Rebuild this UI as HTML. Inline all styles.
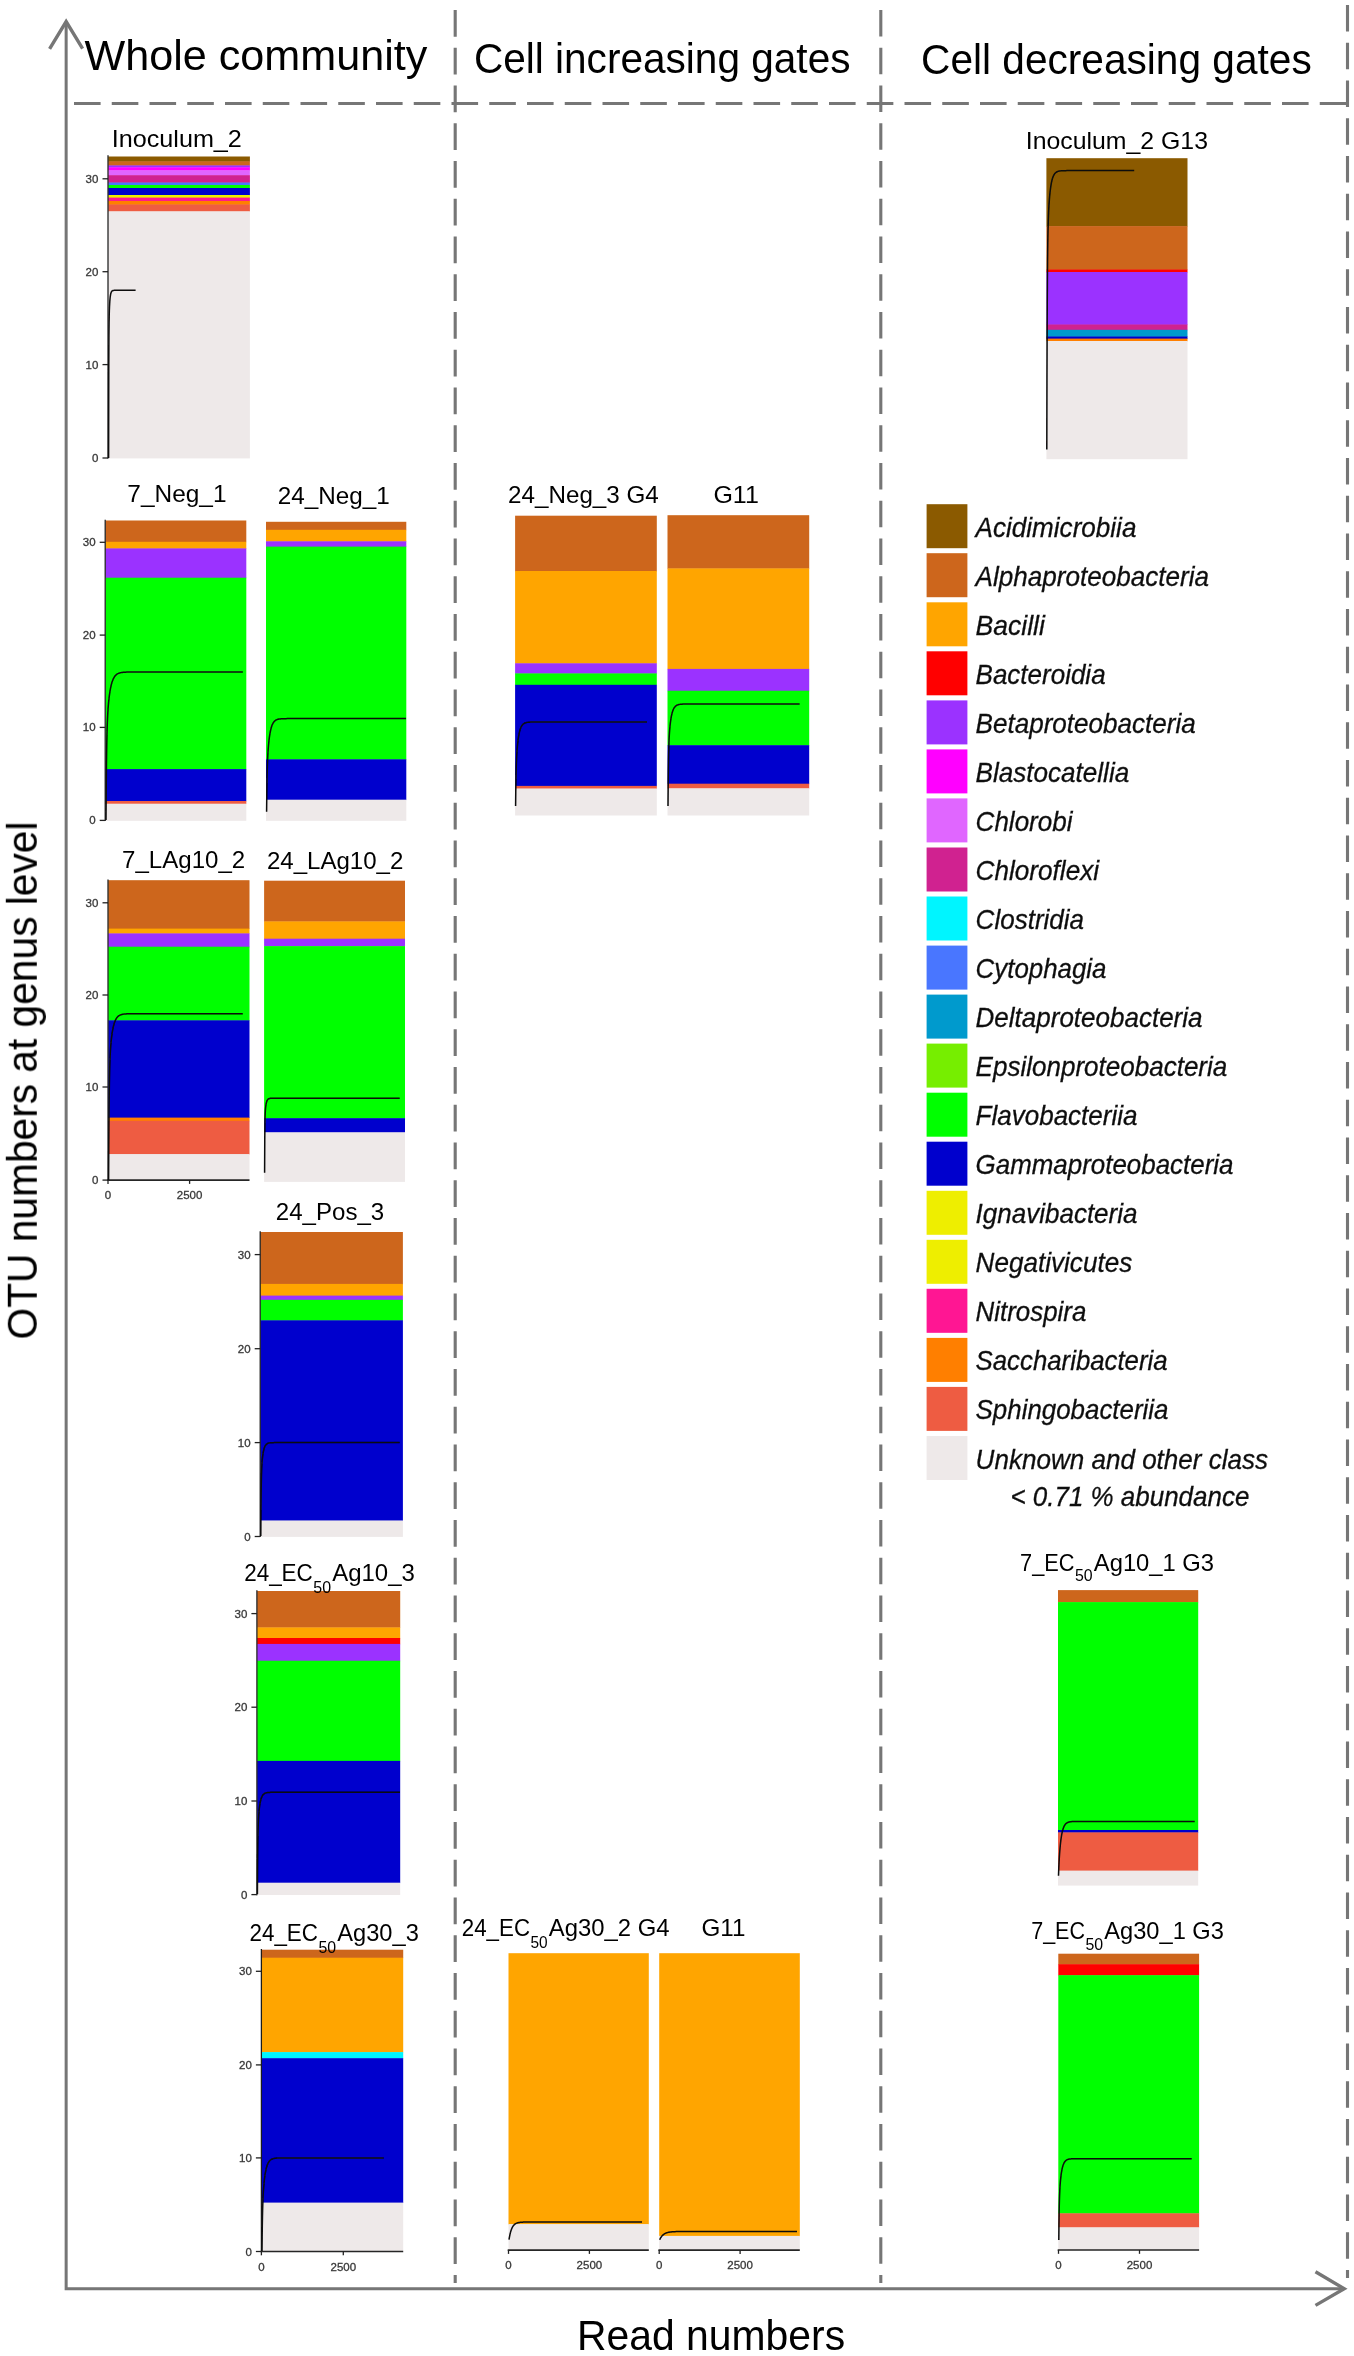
<!DOCTYPE html>
<html><head><meta charset="utf-8"><title>OTU figure</title>
<style>
html,body{margin:0;padding:0;background:#fff;}
body{width:1354px;height:2356px;overflow:hidden;font-family:"Liberation Sans",sans-serif;}
svg{display:block;font-family:"Liberation Sans",sans-serif;}
.tk{font-size:11.5px;fill:#383838;stroke:#383838;stroke-width:0.3;}
.lb{fill:#000;}
.lg{font-size:28px;font-style:italic;fill:#111;stroke:#111;stroke-width:0.3;}
.ti{fill:#000;}
</style></head><body>
<svg width="1354" height="2356" viewBox="0 0 1354 2356">
<defs><filter id="bl" filterUnits="userSpaceOnUse" x="0" y="0" width="1354" height="2356"><feGaussianBlur stdDeviation="0.6"/></filter><filter id="fb" filterUnits="userSpaceOnUse" x="0" y="0" width="1354" height="2356"><feGaussianBlur stdDeviation="0.45"/></filter><filter id="kb" filterUnits="userSpaceOnUse" x="0" y="0" width="1354" height="2356"><feGaussianBlur stdDeviation="0.75"/></filter><filter id="tb" filterUnits="userSpaceOnUse" x="0" y="0" width="1354" height="2356"><feGaussianBlur stdDeviation="0.3"/></filter></defs>
<rect width="1354" height="2356" fill="#fff"/>
<g filter="url(#fb)">
<g fill="none" stroke="#767676" stroke-width="3.4">
<path d="M66.15,22 L66.15,2288.7 L1343.5,2288.7" stroke-width="3.0"/>
<path d="M49.6,48.8 L66.15,21.6 L82.6,48.6"/>
<path d="M1315.5,2271.8 L1344.2,2288.7 L1315.5,2305.4"/>
</g>
<g fill="none" stroke="#767676" stroke-width="3.1" stroke-dasharray="26.6 11.15">
<path d="M74,103.5 L1348,103.5" stroke-dasharray="26.6 11.15"/>
<path d="M455.2,10.1 L455.2,2283"/>
<path d="M880.8,10.0 L880.8,2283"/>
<path d="M1347.5,5 L1347.5,2278"/>
</g>
</g>
<g filter="url(#bl)">
<rect x="108.2" y="156.5" width="141.7" height="5.3" fill="#8B5A00"/>
<rect x="108.2" y="161.4" width="141.7" height="4.4" fill="#CD661D"/>
<rect x="108.2" y="165.4" width="141.7" height="2.3" fill="#9B30FF"/>
<rect x="108.2" y="167.3" width="141.7" height="3.4" fill="#FF00FF"/>
<rect x="108.2" y="170.3" width="141.7" height="5.3" fill="#E066FF"/>
<rect x="108.2" y="175.2" width="141.7" height="7.7" fill="#D02090"/>
<rect x="108.2" y="182.5" width="141.7" height="2.9" fill="#4876FF"/>
<rect x="108.2" y="185.0" width="141.7" height="3.4" fill="#00FF00"/>
<rect x="108.2" y="188.0" width="141.7" height="7.4" fill="#0000CD"/>
<rect x="108.2" y="195.0" width="141.7" height="3.0" fill="#EEEE00"/>
<rect x="108.2" y="197.6" width="141.7" height="3.7" fill="#FF1493"/>
<rect x="108.2" y="200.9" width="141.7" height="4.0" fill="#FF7F00"/>
<rect x="108.2" y="204.5" width="141.7" height="7.2" fill="#EE5C42"/>
<rect x="108.2" y="211.3" width="141.7" height="247.1" fill="#EEE9E9"/>
<line x1="108.0" y1="155.2" x2="108.0" y2="458.6" stroke="#1a1a1a" stroke-width="1.25"/>
<line x1="102.5" y1="178.8" x2="108.0" y2="178.8" stroke="#222" stroke-width="1.3"/>
<line x1="102.5" y1="271.7" x2="108.0" y2="271.7" stroke="#222" stroke-width="1.3"/>
<line x1="102.5" y1="364.6" x2="108.0" y2="364.6" stroke="#222" stroke-width="1.3"/>
<line x1="102.5" y1="458.0" x2="108.0" y2="458.0" stroke="#222" stroke-width="1.3"/>
<path d="M108.60,458.00 L108.75,370.12 L108.90,337.25 L109.05,322.98 L109.20,315.37 L109.35,310.43 L109.50,306.77 L109.65,303.89 L109.80,301.54 L109.95,299.61 L110.10,298.02 L110.25,296.70 L110.75,293.72 L111.25,292.13 L111.75,291.28 L112.25,290.83 L112.75,290.58 L113.25,290.45 L113.75,290.38 L114.25,290.34 L114.75,290.32 L115.25,290.31 L115.75,290.31 L116.25,290.30 L116.75,290.30 L117.25,290.30 L135.60,290.30" fill="none" stroke="#0a0a0a" stroke-width="1.5" stroke-linejoin="round" stroke-linecap="butt"/>
<rect x="1046.4" y="158.2" width="141.1" height="68.3" fill="#8B5A00"/>
<rect x="1046.4" y="226.1" width="141.1" height="43.8" fill="#CD661D"/>
<rect x="1046.4" y="269.5" width="141.1" height="2.9" fill="#FF0000"/>
<rect x="1046.4" y="272.0" width="141.1" height="52.9" fill="#9B30FF"/>
<rect x="1046.4" y="324.5" width="141.1" height="5.7" fill="#D02090"/>
<rect x="1046.4" y="329.8" width="141.1" height="7.1" fill="#009ACD"/>
<rect x="1046.4" y="336.5" width="141.1" height="2.5" fill="#0000CD"/>
<rect x="1046.4" y="338.6" width="141.1" height="2.8" fill="#FF7F00"/>
<rect x="1046.4" y="341.0" width="141.1" height="118.2" fill="#EEE9E9"/>
<path d="M1046.80,449.40 L1046.95,383.30 L1047.10,336.60 L1047.25,303.30 L1047.40,279.28 L1047.55,261.72 L1047.70,248.65 L1047.85,238.74 L1048.00,231.05 L1048.15,224.93 L1048.30,219.96 L1048.45,215.81 L1048.60,212.28 L1048.75,209.21 L1048.90,206.49 L1049.05,204.06 L1049.20,201.85 L1049.35,199.84 L1049.50,197.98 L1049.65,196.27 L1049.80,194.67 L1049.95,193.19 L1050.10,191.80 L1050.25,190.50 L1050.40,189.29 L1050.55,188.15 L1050.70,187.08 L1050.85,186.08 L1051.00,185.14 L1051.15,184.26 L1051.30,183.43 L1051.45,182.65 L1051.60,181.92 L1052.10,179.79 L1052.60,178.06 L1053.10,176.66 L1053.60,175.52 L1054.10,174.59 L1054.60,173.84 L1055.10,173.23 L1055.60,172.74 L1056.10,172.34 L1056.60,172.01 L1057.10,171.74 L1057.60,171.53 L1058.10,171.35 L1058.60,171.21 L1059.10,171.10 L1059.60,171.00 L1060.10,170.93 L1060.60,170.87 L1061.10,170.82 L1061.60,170.78 L1062.10,170.74 L1062.60,170.72 L1063.10,170.69 L1063.60,170.68 L1064.10,170.66 L1064.60,170.65 L1065.10,170.64 L1065.60,170.63 L1066.10,170.63 L1066.60,170.62 L1067.10,170.62 L1067.60,170.61 L1068.10,170.61 L1068.60,170.61 L1069.10,170.61 L1069.60,170.61 L1070.10,170.61 L1070.60,170.60 L1071.10,170.60 L1071.60,170.60 L1072.10,170.60 L1072.60,170.60 L1073.10,170.60 L1134.20,170.60" fill="none" stroke="#0a0a0a" stroke-width="1.5" stroke-linejoin="round" stroke-linecap="butt"/>
<rect x="105.6" y="520.5" width="140.7" height="21.7" fill="#CD661D"/>
<rect x="105.6" y="541.8" width="140.7" height="7.0" fill="#FFA500"/>
<rect x="105.6" y="548.4" width="140.7" height="29.7" fill="#9B30FF"/>
<rect x="105.6" y="577.7" width="140.7" height="191.8" fill="#00FF00"/>
<rect x="105.6" y="769.1" width="140.7" height="32.3" fill="#0000CD"/>
<rect x="105.6" y="801.0" width="140.7" height="3.1" fill="#EE5C42"/>
<rect x="105.6" y="803.7" width="140.7" height="17.1" fill="#EEE9E9"/>
<line x1="105.2" y1="519.7" x2="105.2" y2="821.0" stroke="#1a1a1a" stroke-width="1.25"/>
<line x1="99.7" y1="542.3" x2="105.2" y2="542.3" stroke="#222" stroke-width="1.3"/>
<line x1="99.7" y1="635.1" x2="105.2" y2="635.1" stroke="#222" stroke-width="1.3"/>
<line x1="99.7" y1="727.4" x2="105.2" y2="727.4" stroke="#222" stroke-width="1.3"/>
<line x1="99.7" y1="820.4" x2="105.2" y2="820.4" stroke="#222" stroke-width="1.3"/>
<path d="M106.00,820.00 L106.15,797.09 L106.30,779.19 L106.45,765.09 L106.60,753.89 L106.75,744.90 L106.90,737.61 L107.05,731.62 L107.20,726.64 L107.35,722.44 L107.50,718.85 L107.65,715.73 L107.80,713.00 L107.95,710.57 L108.10,708.39 L108.25,706.41 L108.40,704.59 L108.55,702.92 L108.70,701.37 L108.85,699.92 L109.00,698.57 L109.15,697.29 L109.30,696.09 L109.45,694.95 L109.60,693.88 L109.75,692.86 L109.90,691.89 L110.05,690.97 L110.20,690.09 L110.35,689.26 L110.50,688.46 L110.65,687.70 L110.80,686.98 L110.95,686.29 L111.10,685.64 L111.25,685.01 L111.40,684.41 L111.55,683.85 L111.70,683.30 L111.85,682.78 L112.00,682.29 L112.15,681.82 L112.30,681.37 L112.45,680.94 L112.95,679.65 L113.45,678.54 L113.95,677.59 L114.45,676.79 L114.95,676.09 L115.45,675.50 L115.95,674.99 L116.45,674.56 L116.95,674.19 L117.45,673.87 L117.95,673.60 L118.45,673.37 L118.95,673.17 L119.45,673.00 L119.95,672.86 L120.45,672.73 L120.95,672.63 L121.45,672.54 L121.95,672.46 L122.45,672.39 L122.95,672.34 L123.45,672.29 L123.95,672.25 L124.45,672.21 L124.95,672.18 L125.45,672.15 L125.95,672.13 L126.45,672.11 L126.95,672.10 L127.45,672.08 L127.95,672.07 L128.45,672.06 L128.95,672.05 L129.45,672.04 L129.95,672.04 L130.45,672.03 L130.95,672.03 L131.45,672.02 L131.95,672.02 L132.45,672.02 L132.95,672.01 L133.45,672.01 L133.95,672.01 L134.45,672.01 L134.95,672.01 L135.45,672.01 L135.95,672.01 L136.45,672.00 L136.95,672.00 L137.45,672.00 L137.95,672.00 L138.45,672.00 L138.95,672.00 L139.45,672.00 L139.95,672.00 L140.45,672.00 L140.95,672.00 L242.80,672.00" fill="none" stroke="#0a0a0a" stroke-width="1.5" stroke-linejoin="round" stroke-linecap="butt"/>
<rect x="266.0" y="521.8" width="140.3" height="8.4" fill="#CD661D"/>
<rect x="266.0" y="529.8" width="140.3" height="11.9" fill="#FFA500"/>
<rect x="266.0" y="541.3" width="140.3" height="5.7" fill="#9B30FF"/>
<rect x="266.0" y="546.6" width="140.3" height="213.1" fill="#00FF00"/>
<rect x="266.0" y="759.3" width="140.3" height="40.8" fill="#0000CD"/>
<rect x="266.0" y="799.7" width="140.3" height="21.1" fill="#EEE9E9"/>
<path d="M266.60,811.70 L266.75,797.35 L266.90,786.48 L267.05,778.11 L267.20,771.54 L267.35,766.29 L267.50,762.00 L267.65,758.42 L267.80,755.38 L267.95,752.75 L268.10,750.43 L268.25,748.36 L268.40,746.49 L268.55,744.78 L268.70,743.21 L268.85,741.76 L269.00,740.41 L269.15,739.15 L269.30,737.97 L269.45,736.87 L269.60,735.83 L269.75,734.86 L269.90,733.94 L270.05,733.08 L270.20,732.26 L270.35,731.49 L270.50,730.77 L270.65,730.09 L270.80,729.44 L270.95,728.83 L271.10,728.26 L271.25,727.72 L271.40,727.21 L271.55,726.72 L271.70,726.27 L271.85,725.84 L272.35,724.57 L272.85,723.53 L273.35,722.66 L273.85,721.95 L274.35,721.37 L274.85,720.88 L275.35,720.48 L275.85,720.15 L276.35,719.88 L276.85,719.66 L277.35,719.47 L277.85,719.32 L278.35,719.19 L278.85,719.09 L279.35,719.00 L279.85,718.93 L280.35,718.88 L280.85,718.83 L281.35,718.79 L281.85,718.75 L282.35,718.73 L282.85,718.71 L283.35,718.69 L283.85,718.67 L284.35,718.66 L284.85,718.65 L285.35,718.64 L285.85,718.63 L286.35,718.63 L286.85,718.62 L287.35,718.62 L287.85,718.62 L288.35,718.61 L288.85,718.61 L289.35,718.61 L289.85,718.61 L290.35,718.61 L290.85,718.60 L291.35,718.60 L291.85,718.60 L292.35,718.60 L292.85,718.60 L293.35,718.60 L293.85,718.60 L294.35,718.60 L294.85,718.60 L406.00,718.60" fill="none" stroke="#0a0a0a" stroke-width="1.5" stroke-linejoin="round" stroke-linecap="butt"/>
<rect x="515.1" y="515.7" width="141.7" height="55.7" fill="#CD661D"/>
<rect x="515.1" y="571.0" width="141.7" height="92.7" fill="#FFA500"/>
<rect x="515.1" y="663.3" width="141.7" height="10.5" fill="#9B30FF"/>
<rect x="515.1" y="673.4" width="141.7" height="11.8" fill="#00FF00"/>
<rect x="515.1" y="684.8" width="141.7" height="101.5" fill="#0000CD"/>
<rect x="515.1" y="785.9" width="141.7" height="3.0" fill="#EE5C42"/>
<rect x="515.1" y="788.5" width="141.7" height="27.0" fill="#EEE9E9"/>
<path d="M515.60,806.00 L515.75,792.42 L515.90,782.32 L516.05,774.65 L516.20,768.71 L516.35,763.98 L516.50,760.14 L516.65,756.93 L516.80,754.20 L516.95,751.83 L517.10,749.73 L517.25,747.85 L517.40,746.14 L517.55,744.59 L517.70,743.15 L517.85,741.83 L518.00,740.60 L518.15,739.45 L518.30,738.38 L518.45,737.37 L518.60,736.44 L518.75,735.56 L518.90,734.73 L519.05,733.96 L519.20,733.23 L519.35,732.55 L519.50,731.91 L519.65,731.31 L519.80,730.75 L519.95,730.22 L520.10,729.72 L520.25,729.25 L520.40,728.81 L520.90,727.53 L521.40,726.49 L521.90,725.65 L522.40,724.96 L522.90,724.40 L523.40,723.95 L523.90,723.58 L524.40,723.29 L524.90,723.04 L525.40,722.85 L525.90,722.69 L526.40,722.56 L526.90,722.45 L527.40,722.37 L527.90,722.30 L528.40,722.24 L528.90,722.20 L529.40,722.16 L529.90,722.13 L530.40,722.11 L530.90,722.09 L531.40,722.07 L531.90,722.06 L532.40,722.05 L532.90,722.04 L533.40,722.03 L533.90,722.02 L534.40,722.02 L534.90,722.02 L535.40,722.01 L535.90,722.01 L536.40,722.01 L536.90,722.01 L537.40,722.01 L537.90,722.00 L538.40,722.00 L538.90,722.00 L539.40,722.00 L539.90,722.00 L540.40,722.00 L540.90,722.00 L541.40,722.00 L541.90,722.00 L647.00,722.00" fill="none" stroke="#0a0a0a" stroke-width="1.5" stroke-linejoin="round" stroke-linecap="butt"/>
<rect x="667.5" y="515.2" width="141.7" height="53.6" fill="#CD661D"/>
<rect x="667.5" y="568.4" width="141.7" height="100.9" fill="#FFA500"/>
<rect x="667.5" y="668.9" width="141.7" height="22.2" fill="#9B30FF"/>
<rect x="667.5" y="690.7" width="141.7" height="54.9" fill="#00FF00"/>
<rect x="667.5" y="745.2" width="141.7" height="38.9" fill="#0000CD"/>
<rect x="667.5" y="783.7" width="141.7" height="5.0" fill="#EE5C42"/>
<rect x="667.5" y="788.3" width="141.7" height="27.2" fill="#EEE9E9"/>
<path d="M668.00,806.00 L668.15,786.79 L668.30,772.82 L668.45,762.50 L668.60,754.72 L668.75,748.74 L668.90,744.03 L669.05,740.23 L669.20,737.10 L669.35,734.44 L669.50,732.15 L669.65,730.14 L669.80,728.34 L669.95,726.73 L670.10,725.25 L670.25,723.89 L670.40,722.64 L670.55,721.48 L670.70,720.40 L670.85,719.39 L671.00,718.45 L671.15,717.56 L671.30,716.74 L671.45,715.96 L671.60,715.23 L671.75,714.55 L671.90,713.91 L672.05,713.31 L672.20,712.75 L672.35,712.22 L672.50,711.72 L672.65,711.25 L672.80,710.81 L673.30,709.53 L673.80,708.49 L674.30,707.65 L674.80,706.96 L675.30,706.40 L675.80,705.95 L676.30,705.58 L676.80,705.29 L677.30,705.04 L677.80,704.85 L678.30,704.69 L678.80,704.56 L679.30,704.45 L679.80,704.37 L680.30,704.30 L680.80,704.24 L681.30,704.20 L681.80,704.16 L682.30,704.13 L682.80,704.11 L683.30,704.09 L683.80,704.07 L684.30,704.06 L684.80,704.05 L685.30,704.04 L685.80,704.03 L686.30,704.02 L686.80,704.02 L687.30,704.02 L687.80,704.01 L688.30,704.01 L688.80,704.01 L689.30,704.01 L689.80,704.01 L690.30,704.00 L690.80,704.00 L691.30,704.00 L691.80,704.00 L692.30,704.00 L692.80,704.00 L693.30,704.00 L693.80,704.00 L694.30,704.00 L799.60,704.00" fill="none" stroke="#0a0a0a" stroke-width="1.5" stroke-linejoin="round" stroke-linecap="butt"/>
<rect x="108.2" y="880.2" width="141.3" height="48.8" fill="#CD661D"/>
<rect x="108.2" y="928.6" width="141.3" height="5.2" fill="#FFA500"/>
<rect x="108.2" y="933.4" width="141.3" height="13.7" fill="#9B30FF"/>
<rect x="108.2" y="946.7" width="141.3" height="74.0" fill="#00FF00"/>
<rect x="108.2" y="1020.3" width="141.3" height="97.7" fill="#0000CD"/>
<rect x="108.2" y="1117.6" width="141.3" height="3.6" fill="#FF7F00"/>
<rect x="108.2" y="1120.8" width="141.3" height="33.7" fill="#EE5C42"/>
<rect x="108.2" y="1154.1" width="141.3" height="26.4" fill="#EEE9E9"/>
<line x1="108.0" y1="879.4" x2="108.0" y2="1180.7" stroke="#1a1a1a" stroke-width="1.25"/>
<line x1="102.5" y1="902.8" x2="108.0" y2="902.8" stroke="#222" stroke-width="1.3"/>
<line x1="102.5" y1="995.0" x2="108.0" y2="995.0" stroke="#222" stroke-width="1.3"/>
<line x1="102.5" y1="1087.0" x2="108.0" y2="1087.0" stroke="#222" stroke-width="1.3"/>
<line x1="102.5" y1="1180.1" x2="108.0" y2="1180.1" stroke="#222" stroke-width="1.3"/>
<line x1="107.2" y1="1180.1" x2="249.5" y2="1180.1" stroke="#262626" stroke-width="1.7"/>
<line x1="108.0" y1="1180.1" x2="108.0" y2="1183.9" stroke="#222" stroke-width="1.3"/>
<line x1="189.6" y1="1180.1" x2="189.6" y2="1183.9" stroke="#222" stroke-width="1.3"/>
<path d="M108.60,1180.00 L108.75,1150.13 L108.90,1127.36 L109.05,1109.88 L109.20,1096.34 L109.35,1085.76 L109.50,1077.39 L109.65,1070.69 L109.80,1065.25 L109.95,1060.76 L110.10,1057.00 L110.25,1053.81 L110.40,1051.05 L110.55,1048.63 L110.70,1046.49 L110.85,1044.56 L111.00,1042.82 L111.15,1041.22 L111.30,1039.74 L111.45,1038.37 L111.60,1037.10 L111.75,1035.90 L111.90,1034.78 L112.05,1033.72 L112.20,1032.72 L112.35,1031.78 L112.50,1030.89 L112.65,1030.04 L112.80,1029.23 L112.95,1028.47 L113.10,1027.75 L113.25,1027.06 L113.40,1026.41 L113.55,1025.79 L113.70,1025.20 L113.85,1024.63 L114.00,1024.10 L114.15,1023.59 L114.30,1023.11 L114.45,1022.65 L114.60,1022.21 L115.10,1020.91 L115.60,1019.80 L116.10,1018.86 L116.60,1018.07 L117.10,1017.40 L117.60,1016.83 L118.10,1016.35 L118.60,1015.94 L119.10,1015.60 L119.60,1015.31 L120.10,1015.06 L120.60,1014.85 L121.10,1014.68 L121.60,1014.53 L122.10,1014.40 L122.60,1014.29 L123.10,1014.20 L123.60,1014.12 L124.10,1014.06 L124.60,1014.00 L125.10,1013.96 L125.60,1013.92 L126.10,1013.88 L126.60,1013.86 L127.10,1013.83 L127.60,1013.81 L128.10,1013.79 L128.60,1013.78 L129.10,1013.77 L129.60,1013.76 L130.10,1013.75 L130.60,1013.74 L131.10,1013.73 L131.60,1013.73 L132.10,1013.72 L132.60,1013.72 L133.10,1013.72 L133.60,1013.72 L134.10,1013.71 L134.60,1013.71 L135.10,1013.71 L135.60,1013.71 L136.10,1013.71 L136.60,1013.71 L137.10,1013.70 L137.60,1013.70 L138.10,1013.70 L138.60,1013.70 L139.10,1013.70 L139.60,1013.70 L140.10,1013.70 L140.60,1013.70 L141.10,1013.70 L242.80,1013.70" fill="none" stroke="#0a0a0a" stroke-width="1.5" stroke-linejoin="round" stroke-linecap="butt"/>
<rect x="264.1" y="880.7" width="140.9" height="41.1" fill="#CD661D"/>
<rect x="264.1" y="921.4" width="140.9" height="17.7" fill="#FFA500"/>
<rect x="264.1" y="938.7" width="140.9" height="7.8" fill="#9B30FF"/>
<rect x="264.1" y="946.1" width="140.9" height="172.5" fill="#00FF00"/>
<rect x="264.1" y="1118.2" width="140.9" height="14.5" fill="#0000CD"/>
<rect x="264.1" y="1132.3" width="140.9" height="49.6" fill="#EEE9E9"/>
<path d="M264.60,1172.70 L264.75,1141.02 L264.90,1125.77 L265.05,1117.94 L265.20,1113.52 L265.35,1110.72 L265.50,1108.76 L265.65,1107.25 L265.80,1106.02 L265.95,1104.99 L266.10,1104.11 L266.25,1103.35 L266.40,1102.69 L266.55,1102.12 L266.70,1101.62 L266.85,1101.18 L267.35,1100.09 L267.85,1099.40 L268.35,1098.96 L268.85,1098.68 L269.35,1098.51 L269.85,1098.40 L270.35,1098.32 L270.85,1098.28 L271.35,1098.25 L271.85,1098.23 L272.35,1098.22 L272.85,1098.21 L273.35,1098.21 L273.85,1098.21 L274.35,1098.20 L274.85,1098.20 L275.35,1098.20 L275.85,1098.20 L276.35,1098.20 L399.70,1098.20" fill="none" stroke="#0a0a0a" stroke-width="1.5" stroke-linejoin="round" stroke-linecap="butt"/>
<rect x="260.4" y="1232.0" width="142.5" height="52.3" fill="#CD661D"/>
<rect x="260.4" y="1283.9" width="142.5" height="12.1" fill="#FFA500"/>
<rect x="260.4" y="1295.6" width="142.5" height="4.6" fill="#9B30FF"/>
<rect x="260.4" y="1299.8" width="142.5" height="20.9" fill="#00FF00"/>
<rect x="260.4" y="1320.3" width="142.5" height="200.6" fill="#0000CD"/>
<rect x="260.4" y="1520.5" width="142.5" height="16.4" fill="#EEE9E9"/>
<line x1="260.2" y1="1231.2" x2="260.2" y2="1537.1" stroke="#1a1a1a" stroke-width="1.25"/>
<line x1="254.7" y1="1254.6" x2="260.2" y2="1254.6" stroke="#222" stroke-width="1.3"/>
<line x1="254.7" y1="1348.7" x2="260.2" y2="1348.7" stroke="#222" stroke-width="1.3"/>
<line x1="254.7" y1="1442.6" x2="260.2" y2="1442.6" stroke="#222" stroke-width="1.3"/>
<line x1="254.7" y1="1536.5" x2="260.2" y2="1536.5" stroke="#222" stroke-width="1.3"/>
<path d="M260.80,1536.00 L260.95,1511.08 L261.10,1495.02 L261.25,1484.41 L261.40,1477.18 L261.55,1472.05 L261.70,1468.26 L261.85,1465.34 L262.00,1463.00 L262.15,1461.05 L262.30,1459.38 L262.45,1457.92 L262.60,1456.62 L262.75,1455.46 L262.90,1454.40 L263.05,1453.44 L263.20,1452.57 L263.35,1451.76 L263.50,1451.03 L263.65,1450.35 L263.80,1449.73 L263.95,1449.16 L264.10,1448.64 L264.25,1448.15 L264.40,1447.71 L264.55,1447.30 L265.05,1446.16 L265.55,1445.30 L266.05,1444.64 L266.55,1444.15 L267.05,1443.77 L267.55,1443.49 L268.05,1443.27 L268.55,1443.11 L269.05,1442.99 L269.55,1442.89 L270.05,1442.82 L270.55,1442.77 L271.05,1442.73 L271.55,1442.70 L272.05,1442.67 L272.55,1442.66 L273.05,1442.64 L273.55,1442.63 L274.05,1442.62 L274.55,1442.62 L275.05,1442.61 L275.55,1442.61 L276.05,1442.61 L276.55,1442.61 L277.05,1442.60 L277.55,1442.60 L278.05,1442.60 L278.55,1442.60 L279.05,1442.60 L279.55,1442.60 L280.05,1442.60 L280.55,1442.60 L399.70,1442.60" fill="none" stroke="#0a0a0a" stroke-width="1.5" stroke-linejoin="round" stroke-linecap="butt"/>
<rect x="257.1" y="1591.0" width="143.1" height="36.8" fill="#CD661D"/>
<rect x="257.1" y="1627.4" width="143.1" height="11.0" fill="#FFA500"/>
<rect x="257.1" y="1638.0" width="143.1" height="6.3" fill="#FF0000"/>
<rect x="257.1" y="1643.9" width="143.1" height="17.2" fill="#9B30FF"/>
<rect x="257.1" y="1660.7" width="143.1" height="100.6" fill="#00FF00"/>
<rect x="257.1" y="1760.9" width="143.1" height="122.2" fill="#0000CD"/>
<rect x="257.1" y="1882.7" width="143.1" height="12.3" fill="#EEE9E9"/>
<line x1="256.9" y1="1590.2" x2="256.9" y2="1895.2" stroke="#1a1a1a" stroke-width="1.25"/>
<line x1="251.4" y1="1613.6" x2="256.9" y2="1613.6" stroke="#222" stroke-width="1.3"/>
<line x1="251.4" y1="1707.2" x2="256.9" y2="1707.2" stroke="#222" stroke-width="1.3"/>
<line x1="251.4" y1="1801.0" x2="256.9" y2="1801.0" stroke="#222" stroke-width="1.3"/>
<line x1="251.4" y1="1894.6" x2="256.9" y2="1894.6" stroke="#222" stroke-width="1.3"/>
<path d="M257.40,1894.00 L257.55,1869.31 L257.70,1852.69 L257.85,1841.28 L258.00,1833.25 L258.15,1827.42 L258.30,1823.06 L258.45,1819.67 L258.60,1816.95 L258.75,1814.69 L258.90,1812.77 L259.05,1811.10 L259.20,1809.62 L259.35,1808.29 L259.50,1807.08 L259.65,1805.98 L259.80,1804.98 L259.95,1804.05 L260.10,1803.19 L260.25,1802.40 L260.40,1801.66 L260.55,1800.99 L260.70,1800.36 L260.85,1799.77 L261.00,1799.23 L261.15,1798.73 L261.30,1798.27 L261.45,1797.84 L261.95,1796.61 L262.45,1795.66 L262.95,1794.91 L263.45,1794.34 L263.95,1793.89 L264.45,1793.54 L264.95,1793.26 L265.45,1793.05 L265.95,1792.88 L266.45,1792.75 L266.95,1792.65 L267.45,1792.58 L267.95,1792.51 L268.45,1792.47 L268.95,1792.43 L269.45,1792.40 L269.95,1792.38 L270.45,1792.36 L270.95,1792.35 L271.45,1792.34 L271.95,1792.33 L272.45,1792.32 L272.95,1792.32 L273.45,1792.31 L273.95,1792.31 L274.45,1792.31 L274.95,1792.31 L275.45,1792.31 L275.95,1792.30 L276.45,1792.30 L276.95,1792.30 L277.45,1792.30 L277.95,1792.30 L278.45,1792.30 L278.95,1792.30 L400.00,1792.30" fill="none" stroke="#0a0a0a" stroke-width="1.5" stroke-linejoin="round" stroke-linecap="butt"/>
<rect x="261.6" y="1949.7" width="141.6" height="8.4" fill="#CD661D"/>
<rect x="261.6" y="1957.7" width="141.6" height="94.8" fill="#FFA500"/>
<rect x="261.6" y="2052.1" width="141.6" height="6.5" fill="#00F5FF"/>
<rect x="261.6" y="2058.2" width="141.6" height="144.8" fill="#0000CD"/>
<rect x="261.6" y="2202.6" width="141.6" height="49.3" fill="#EEE9E9"/>
<line x1="261.4" y1="1948.9" x2="261.4" y2="2252.1" stroke="#1a1a1a" stroke-width="1.25"/>
<line x1="255.9" y1="1971.3" x2="261.4" y2="1971.3" stroke="#222" stroke-width="1.3"/>
<line x1="255.9" y1="2064.9" x2="261.4" y2="2064.9" stroke="#222" stroke-width="1.3"/>
<line x1="255.9" y1="2157.9" x2="261.4" y2="2157.9" stroke="#222" stroke-width="1.3"/>
<line x1="255.9" y1="2251.5" x2="261.4" y2="2251.5" stroke="#222" stroke-width="1.3"/>
<line x1="260.6" y1="2251.5" x2="403.2" y2="2251.5" stroke="#262626" stroke-width="1.7"/>
<line x1="261.4" y1="2251.5" x2="261.4" y2="2255.3" stroke="#222" stroke-width="1.3"/>
<line x1="343.3" y1="2251.5" x2="343.3" y2="2255.3" stroke="#222" stroke-width="1.3"/>
<path d="M262.00,2251.00 L262.15,2236.65 L262.30,2225.78 L262.45,2217.41 L262.60,2210.84 L262.75,2205.59 L262.90,2201.30 L263.05,2197.72 L263.20,2194.68 L263.35,2192.05 L263.50,2189.73 L263.65,2187.66 L263.80,2185.79 L263.95,2184.08 L264.10,2182.51 L264.25,2181.06 L264.40,2179.71 L264.55,2178.45 L264.70,2177.27 L264.85,2176.17 L265.00,2175.13 L265.15,2174.16 L265.30,2173.24 L265.45,2172.38 L265.60,2171.56 L265.75,2170.79 L265.90,2170.07 L266.05,2169.39 L266.20,2168.74 L266.35,2168.13 L266.50,2167.56 L266.65,2167.02 L266.80,2166.51 L266.95,2166.02 L267.10,2165.57 L267.25,2165.14 L267.75,2163.87 L268.25,2162.83 L268.75,2161.96 L269.25,2161.25 L269.75,2160.67 L270.25,2160.18 L270.75,2159.78 L271.25,2159.45 L271.75,2159.18 L272.25,2158.96 L272.75,2158.77 L273.25,2158.62 L273.75,2158.49 L274.25,2158.39 L274.75,2158.30 L275.25,2158.23 L275.75,2158.18 L276.25,2158.13 L276.75,2158.09 L277.25,2158.05 L277.75,2158.03 L278.25,2158.01 L278.75,2157.99 L279.25,2157.97 L279.75,2157.96 L280.25,2157.95 L280.75,2157.94 L281.25,2157.93 L281.75,2157.93 L282.25,2157.92 L282.75,2157.92 L283.25,2157.92 L283.75,2157.91 L284.25,2157.91 L284.75,2157.91 L285.25,2157.91 L285.75,2157.91 L286.25,2157.90 L286.75,2157.90 L287.25,2157.90 L287.75,2157.90 L288.25,2157.90 L288.75,2157.90 L289.25,2157.90 L289.75,2157.90 L290.25,2157.90 L383.70,2157.90" fill="none" stroke="#0a0a0a" stroke-width="1.5" stroke-linejoin="round" stroke-linecap="butt"/>
<rect x="508.5" y="1953.2" width="140.3" height="271.3" fill="#FFA500"/>
<rect x="508.5" y="2224.1" width="140.3" height="26.4" fill="#EEE9E9"/>
<line x1="507.7" y1="2250.1" x2="648.8" y2="2250.1" stroke="#262626" stroke-width="1.7"/>
<line x1="508.5" y1="2250.1" x2="508.5" y2="2253.9" stroke="#222" stroke-width="1.3"/>
<line x1="589.4" y1="2250.1" x2="589.4" y2="2253.9" stroke="#222" stroke-width="1.3"/>
<path d="M509.00,2239.70 L509.15,2238.78 L509.30,2237.90 L509.45,2237.07 L509.60,2236.29 L509.75,2235.54 L509.90,2234.83 L510.05,2234.17 L510.20,2233.53 L510.35,2232.93 L510.50,2232.36 L510.65,2231.82 L510.80,2231.31 L510.95,2230.82 L511.10,2230.36 L511.25,2229.92 L511.40,2229.51 L511.55,2229.12 L511.70,2228.75 L511.85,2228.40 L512.00,2228.06 L512.15,2227.75 L512.30,2227.45 L512.45,2227.16 L512.60,2226.89 L512.75,2226.64 L512.90,2226.40 L513.05,2226.17 L513.20,2225.95 L513.35,2225.74 L513.50,2225.55 L513.65,2225.36 L513.80,2225.19 L513.95,2225.02 L514.10,2224.86 L514.25,2224.71 L514.40,2224.57 L514.55,2224.44 L514.70,2224.31 L515.20,2223.93 L515.70,2223.62 L516.20,2223.35 L516.70,2223.13 L517.20,2222.95 L517.70,2222.79 L518.20,2222.66 L518.70,2222.55 L519.20,2222.46 L519.70,2222.39 L520.20,2222.32 L520.70,2222.27 L521.20,2222.23 L521.70,2222.19 L522.20,2222.16 L522.70,2222.13 L523.20,2222.11 L523.70,2222.09 L524.20,2222.08 L524.70,2222.06 L525.20,2222.05 L525.70,2222.05 L526.20,2222.04 L526.70,2222.03 L527.20,2222.03 L527.70,2222.02 L528.20,2222.02 L528.70,2222.02 L529.20,2222.01 L529.70,2222.01 L530.20,2222.01 L530.70,2222.01 L531.20,2222.01 L531.70,2222.01 L532.20,2222.00 L532.70,2222.00 L533.20,2222.00 L533.70,2222.00 L534.20,2222.00 L534.70,2222.00 L535.20,2222.00 L535.70,2222.00 L536.20,2222.00 L536.70,2222.00 L537.20,2222.00 L537.70,2222.00 L538.20,2222.00 L538.70,2222.00 L539.20,2222.00 L539.70,2222.00 L642.00,2222.00" fill="none" stroke="#0a0a0a" stroke-width="1.5" stroke-linejoin="round" stroke-linecap="butt"/>
<rect x="659.2" y="1953.2" width="140.6" height="283.1" fill="#FFA500"/>
<rect x="659.2" y="2235.9" width="140.6" height="14.6" fill="#EEE9E9"/>
<line x1="658.4" y1="2250.1" x2="799.8" y2="2250.1" stroke="#262626" stroke-width="1.7"/>
<line x1="659.2" y1="2250.1" x2="659.2" y2="2253.9" stroke="#222" stroke-width="1.3"/>
<line x1="740.1" y1="2250.1" x2="740.1" y2="2253.9" stroke="#222" stroke-width="1.3"/>
<path d="M659.70,2239.70 L659.85,2239.38 L660.00,2239.08 L660.15,2238.78 L660.30,2238.50 L660.45,2238.23 L660.60,2237.97 L660.75,2237.72 L660.90,2237.48 L661.05,2237.25 L661.20,2237.03 L661.35,2236.81 L661.50,2236.61 L661.65,2236.41 L661.80,2236.22 L661.95,2236.04 L662.10,2235.86 L662.25,2235.69 L662.40,2235.53 L662.55,2235.37 L662.70,2235.22 L662.85,2235.08 L663.00,2234.94 L663.15,2234.81 L663.30,2234.68 L663.45,2234.56 L663.60,2234.44 L663.75,2234.32 L663.90,2234.22 L664.05,2234.11 L664.20,2234.01 L664.35,2233.91 L664.50,2233.82 L664.65,2233.73 L664.80,2233.64 L664.95,2233.56 L665.10,2233.48 L665.25,2233.40 L665.40,2233.33 L665.55,2233.26 L665.70,2233.19 L665.85,2233.13 L666.00,2233.06 L666.15,2233.00 L666.30,2232.94 L666.45,2232.89 L666.60,2232.83 L666.75,2232.78 L666.90,2232.73 L667.05,2232.69 L667.20,2232.64 L667.35,2232.60 L667.85,2232.46 L668.35,2232.34 L668.85,2232.24 L669.35,2232.15 L669.85,2232.07 L670.35,2232.00 L670.85,2231.94 L671.35,2231.88 L671.85,2231.84 L672.35,2231.79 L672.85,2231.76 L673.35,2231.73 L673.85,2231.70 L674.35,2231.67 L674.85,2231.65 L675.35,2231.63 L675.85,2231.62 L676.35,2231.60 L676.85,2231.59 L677.35,2231.58 L677.85,2231.57 L678.35,2231.56 L678.85,2231.55 L679.35,2231.55 L679.85,2231.54 L680.35,2231.54 L680.85,2231.53 L681.35,2231.53 L681.85,2231.52 L682.35,2231.52 L682.85,2231.52 L683.35,2231.52 L683.85,2231.51 L684.35,2231.51 L684.85,2231.51 L685.35,2231.51 L685.85,2231.51 L686.35,2231.51 L686.85,2231.51 L687.35,2231.51 L687.85,2231.50 L688.35,2231.50 L688.85,2231.50 L689.35,2231.50 L689.85,2231.50 L690.35,2231.50 L690.85,2231.50 L691.35,2231.50 L691.85,2231.50 L692.35,2231.50 L692.85,2231.50 L693.35,2231.50 L693.85,2231.50 L694.35,2231.50 L694.85,2231.50 L695.35,2231.50 L695.85,2231.50 L696.35,2231.50 L696.85,2231.50 L697.35,2231.50 L697.85,2231.50 L698.35,2231.50 L698.85,2231.50 L699.35,2231.50 L699.85,2231.50 L700.35,2231.50 L700.85,2231.50 L701.35,2231.50 L797.00,2231.50" fill="none" stroke="#0a0a0a" stroke-width="1.5" stroke-linejoin="round" stroke-linecap="butt"/>
<rect x="1058.0" y="1590.1" width="140.2" height="12.4" fill="#CD661D"/>
<rect x="1058.0" y="1602.1" width="140.2" height="228.3" fill="#00FF00"/>
<rect x="1058.0" y="1830.0" width="140.2" height="2.8" fill="#0000CD"/>
<rect x="1058.0" y="1832.4" width="140.2" height="38.6" fill="#EE5C42"/>
<rect x="1058.0" y="1870.6" width="140.2" height="15.0" fill="#EEE9E9"/>
<path d="M1058.50,1875.70 L1058.65,1871.41 L1058.80,1867.69 L1058.95,1864.41 L1059.10,1861.48 L1059.25,1858.83 L1059.40,1856.41 L1059.55,1854.18 L1059.70,1852.12 L1059.85,1850.21 L1060.00,1848.43 L1060.15,1846.77 L1060.30,1845.21 L1060.45,1843.76 L1060.60,1842.40 L1060.75,1841.12 L1060.90,1839.92 L1061.05,1838.80 L1061.20,1837.74 L1061.35,1836.75 L1061.50,1835.82 L1061.65,1834.95 L1061.80,1834.12 L1061.95,1833.35 L1062.10,1832.63 L1062.25,1831.95 L1062.40,1831.31 L1062.55,1830.71 L1062.70,1830.14 L1062.85,1829.62 L1063.00,1829.12 L1063.15,1828.65 L1063.30,1828.21 L1063.80,1826.93 L1064.30,1825.89 L1064.80,1825.05 L1065.30,1824.36 L1065.80,1823.80 L1066.30,1823.35 L1066.80,1822.98 L1067.30,1822.69 L1067.80,1822.44 L1068.30,1822.25 L1068.80,1822.09 L1069.30,1821.96 L1069.80,1821.85 L1070.30,1821.77 L1070.80,1821.70 L1071.30,1821.64 L1071.80,1821.60 L1072.30,1821.56 L1072.80,1821.53 L1073.30,1821.51 L1073.80,1821.49 L1074.30,1821.47 L1074.80,1821.46 L1075.30,1821.45 L1075.80,1821.44 L1076.30,1821.43 L1076.80,1821.42 L1077.30,1821.42 L1077.80,1821.42 L1078.30,1821.41 L1078.80,1821.41 L1079.30,1821.41 L1079.80,1821.41 L1080.30,1821.41 L1080.80,1821.40 L1081.30,1821.40 L1081.80,1821.40 L1082.30,1821.40 L1082.80,1821.40 L1083.30,1821.40 L1083.80,1821.40 L1084.30,1821.40 L1084.80,1821.40 L1194.70,1821.40" fill="none" stroke="#0a0a0a" stroke-width="1.5" stroke-linejoin="round" stroke-linecap="butt"/>
<rect x="1058.3" y="1953.7" width="140.8" height="10.9" fill="#CD661D"/>
<rect x="1058.3" y="1964.2" width="140.8" height="11.4" fill="#FF0000"/>
<rect x="1058.3" y="1975.2" width="140.8" height="238.5" fill="#00FF00"/>
<rect x="1058.3" y="2213.3" width="140.8" height="14.4" fill="#EE5C42"/>
<rect x="1058.3" y="2227.3" width="140.8" height="23.1" fill="#EEE9E9"/>
<line x1="1057.7" y1="2250.0" x2="1199.1" y2="2250.0" stroke="#262626" stroke-width="1.7"/>
<line x1="1058.5" y1="2250.0" x2="1058.5" y2="2253.8" stroke="#222" stroke-width="1.3"/>
<line x1="1139.5" y1="2250.0" x2="1139.5" y2="2253.8" stroke="#222" stroke-width="1.3"/>
<path d="M1058.80,2240.00 L1058.95,2225.15 L1059.10,2214.47 L1059.25,2206.60 L1059.40,2200.67 L1059.55,2196.05 L1059.70,2192.36 L1059.85,2189.33 L1060.00,2186.77 L1060.15,2184.56 L1060.30,2182.62 L1060.45,2180.88 L1060.60,2179.31 L1060.75,2177.88 L1060.90,2176.57 L1061.05,2175.36 L1061.20,2174.25 L1061.35,2173.21 L1061.50,2172.24 L1061.65,2171.34 L1061.80,2170.51 L1061.95,2169.73 L1062.10,2169.00 L1062.25,2168.32 L1062.40,2167.68 L1062.55,2167.09 L1062.70,2166.54 L1062.85,2166.02 L1063.00,2165.54 L1063.15,2165.09 L1063.30,2164.67 L1063.80,2163.45 L1064.30,2162.49 L1064.80,2161.72 L1065.30,2161.10 L1065.80,2160.61 L1066.30,2160.23 L1066.80,2159.92 L1067.30,2159.67 L1067.80,2159.47 L1068.30,2159.31 L1068.80,2159.19 L1069.30,2159.09 L1069.80,2159.01 L1070.30,2158.95 L1070.80,2158.90 L1071.30,2158.86 L1071.80,2158.83 L1072.30,2158.80 L1072.80,2158.78 L1073.30,2158.76 L1073.80,2158.75 L1074.30,2158.74 L1074.80,2158.73 L1075.30,2158.73 L1075.80,2158.72 L1076.30,2158.72 L1076.80,2158.71 L1077.30,2158.71 L1077.80,2158.71 L1078.30,2158.71 L1078.80,2158.71 L1079.30,2158.70 L1079.80,2158.70 L1080.30,2158.70 L1080.80,2158.70 L1081.30,2158.70 L1081.80,2158.70 L1082.30,2158.70 L1082.80,2158.70 L1191.70,2158.70" fill="none" stroke="#0a0a0a" stroke-width="1.5" stroke-linejoin="round" stroke-linecap="butt"/>
<rect x="926.6" y="504.2" width="40.8" height="44" fill="#8B5A00"/>
<text x="975.6" y="536.7" class="lg" textLength="160.8" lengthAdjust="spacingAndGlyphs">Acidimicrobiia</text>
<rect x="926.6" y="553.2" width="40.8" height="44" fill="#CD661D"/>
<text x="975.6" y="585.7" class="lg" textLength="233.4" lengthAdjust="spacingAndGlyphs">Alphaproteobacteria</text>
<rect x="926.6" y="602.3" width="40.8" height="44" fill="#FFA500"/>
<text x="975.6" y="634.8" class="lg" textLength="69.2" lengthAdjust="spacingAndGlyphs">Bacilli</text>
<rect x="926.6" y="651.3" width="40.8" height="44" fill="#FF0000"/>
<text x="975.6" y="683.8" class="lg" textLength="130.0" lengthAdjust="spacingAndGlyphs">Bacteroidia</text>
<rect x="926.6" y="700.4" width="40.8" height="44" fill="#9B30FF"/>
<text x="975.6" y="732.9" class="lg" textLength="220.1" lengthAdjust="spacingAndGlyphs">Betaproteobacteria</text>
<rect x="926.6" y="749.4" width="40.8" height="44" fill="#FF00FF"/>
<text x="975.6" y="781.9" class="lg" textLength="153.6" lengthAdjust="spacingAndGlyphs">Blastocatellia</text>
<rect x="926.6" y="798.4" width="40.8" height="44" fill="#E066FF"/>
<text x="975.6" y="830.9" class="lg" textLength="96.9" lengthAdjust="spacingAndGlyphs">Chlorobi</text>
<rect x="926.6" y="847.5" width="40.8" height="44" fill="#D02090"/>
<text x="975.6" y="880.0" class="lg" textLength="123.5" lengthAdjust="spacingAndGlyphs">Chloroflexi</text>
<rect x="926.6" y="896.5" width="40.8" height="44" fill="#00F5FF"/>
<text x="975.6" y="929.0" class="lg" textLength="108.5" lengthAdjust="spacingAndGlyphs">Clostridia</text>
<rect x="926.6" y="945.6" width="40.8" height="44" fill="#4876FF"/>
<text x="975.6" y="978.1" class="lg" textLength="130.9" lengthAdjust="spacingAndGlyphs">Cytophagia</text>
<rect x="926.6" y="994.6" width="40.8" height="44" fill="#009ACD"/>
<text x="975.6" y="1027.1" class="lg" textLength="226.9" lengthAdjust="spacingAndGlyphs">Deltaproteobacteria</text>
<rect x="926.6" y="1043.6" width="40.8" height="44" fill="#76EE00"/>
<text x="975.6" y="1076.1" class="lg" textLength="251.7" lengthAdjust="spacingAndGlyphs">Epsilonproteobacteria</text>
<rect x="926.6" y="1092.7" width="40.8" height="44" fill="#00FF00"/>
<text x="975.6" y="1125.2" class="lg" textLength="161.9" lengthAdjust="spacingAndGlyphs">Flavobacteriia</text>
<rect x="926.6" y="1141.7" width="40.8" height="44" fill="#0000CD"/>
<text x="975.6" y="1174.2" class="lg" textLength="257.9" lengthAdjust="spacingAndGlyphs">Gammaproteobacteria</text>
<rect x="926.6" y="1190.8" width="40.8" height="44" fill="#EEEE00"/>
<text x="975.6" y="1223.3" class="lg" textLength="161.9" lengthAdjust="spacingAndGlyphs">Ignavibacteria</text>
<rect x="926.6" y="1239.8" width="40.8" height="44" fill="#EEEE00"/>
<text x="975.6" y="1272.3" class="lg" textLength="156.6" lengthAdjust="spacingAndGlyphs">Negativicutes</text>
<rect x="926.6" y="1288.8" width="40.8" height="44" fill="#FF1493"/>
<text x="975.6" y="1321.3" class="lg" textLength="110.8" lengthAdjust="spacingAndGlyphs">Nitrospira</text>
<rect x="926.6" y="1337.9" width="40.8" height="44" fill="#FF7F00"/>
<text x="975.6" y="1370.4" class="lg" textLength="192.0" lengthAdjust="spacingAndGlyphs">Saccharibacteria</text>
<rect x="926.6" y="1386.9" width="40.8" height="44" fill="#EE5C42"/>
<text x="975.6" y="1419.4" class="lg" textLength="192.9" lengthAdjust="spacingAndGlyphs">Sphingobacteriia</text>
<rect x="926.6" y="1436.0" width="40.8" height="44" fill="#EEE9E9"/>
<text x="975.6" y="1468.5" class="lg" textLength="292.5" lengthAdjust="spacingAndGlyphs">Unknown and other class</text>
<text x="1010.4" y="1505.7" class="lg" textLength="239" lengthAdjust="spacingAndGlyphs">&lt; 0.71 % abundance</text>
</g>
<g filter="url(#kb)">
<text x="98.4" y="182.8" text-anchor="end" class="tk">30</text>
<text x="98.4" y="275.7" text-anchor="end" class="tk">20</text>
<text x="98.4" y="368.6" text-anchor="end" class="tk">10</text>
<text x="98.4" y="462.0" text-anchor="end" class="tk">0</text>
<text x="95.6" y="546.3" text-anchor="end" class="tk">30</text>
<text x="95.6" y="639.1" text-anchor="end" class="tk">20</text>
<text x="95.6" y="731.4" text-anchor="end" class="tk">10</text>
<text x="95.6" y="824.4" text-anchor="end" class="tk">0</text>
<text x="98.4" y="906.8" text-anchor="end" class="tk">30</text>
<text x="98.4" y="999.0" text-anchor="end" class="tk">20</text>
<text x="98.4" y="1091.0" text-anchor="end" class="tk">10</text>
<text x="98.4" y="1184.1" text-anchor="end" class="tk">0</text>
<text x="108.0" y="1199.1" text-anchor="middle" class="tk">0</text>
<text x="189.6" y="1199.1" text-anchor="middle" class="tk">2500</text>
<text x="250.6" y="1258.6" text-anchor="end" class="tk">30</text>
<text x="250.6" y="1352.7" text-anchor="end" class="tk">20</text>
<text x="250.6" y="1446.6" text-anchor="end" class="tk">10</text>
<text x="250.6" y="1540.5" text-anchor="end" class="tk">0</text>
<text x="247.3" y="1617.6" text-anchor="end" class="tk">30</text>
<text x="247.3" y="1711.2" text-anchor="end" class="tk">20</text>
<text x="247.3" y="1805.0" text-anchor="end" class="tk">10</text>
<text x="247.3" y="1898.6" text-anchor="end" class="tk">0</text>
<text x="251.8" y="1975.3" text-anchor="end" class="tk">30</text>
<text x="251.8" y="2068.9" text-anchor="end" class="tk">20</text>
<text x="251.8" y="2161.9" text-anchor="end" class="tk">10</text>
<text x="251.8" y="2255.5" text-anchor="end" class="tk">0</text>
<text x="261.4" y="2270.5" text-anchor="middle" class="tk">0</text>
<text x="343.3" y="2270.5" text-anchor="middle" class="tk">2500</text>
<text x="508.5" y="2269.1" text-anchor="middle" class="tk">0</text>
<text x="589.4" y="2269.1" text-anchor="middle" class="tk">2500</text>
<text x="659.2" y="2269.1" text-anchor="middle" class="tk">0</text>
<text x="740.1" y="2269.1" text-anchor="middle" class="tk">2500</text>
<text x="1058.5" y="2269.0" text-anchor="middle" class="tk">0</text>
<text x="1139.5" y="2269.0" text-anchor="middle" class="tk">2500</text>
</g>
<g filter="url(#tb)">
<text x="84.4" y="70.0" class="ti" font-size="41.8" textLength="343.0" lengthAdjust="spacingAndGlyphs">Whole community</text>
<text x="473.9" y="72.6" class="ti" font-size="41.8" textLength="376.6" lengthAdjust="spacingAndGlyphs">Cell increasing gates</text>
<text x="921.1" y="74.4" class="ti" font-size="41.8" textLength="390.6" lengthAdjust="spacingAndGlyphs">Cell decreasing gates</text>
<text transform="translate(36.8,1339.5) rotate(-90)" class="ti" font-size="41.8" textLength="518" lengthAdjust="spacingAndGlyphs">OTU numbers at genus level</text>
<text x="577.1" y="2350.4" class="ti" font-size="41.6" textLength="268.0" lengthAdjust="spacingAndGlyphs">Read numbers</text>
<text x="111.7" y="146.9" class="lb" font-size="23.7" textLength="130.2" lengthAdjust="spacingAndGlyphs">Inoculum_2</text>
<text x="1025.8" y="148.6" class="lb" font-size="23.7" textLength="182.2" lengthAdjust="spacingAndGlyphs">Inoculum_2 G13</text>
<text x="127.3" y="502.3" class="lb" font-size="23.7" textLength="99.2" lengthAdjust="spacingAndGlyphs">7_Neg_1</text>
<text x="277.8" y="503.6" class="lb" font-size="23.7" textLength="112.0" lengthAdjust="spacingAndGlyphs">24_Neg_1</text>
<text x="508.1" y="502.6" class="lb" font-size="23.7" textLength="150.7" lengthAdjust="spacingAndGlyphs">24_Neg_3 G4</text>
<text x="713.4" y="502.6" class="lb" font-size="23.7" textLength="45.4" lengthAdjust="spacingAndGlyphs">G11</text>
<text x="122.1" y="867.9" class="lb" font-size="23.7" textLength="123.1" lengthAdjust="spacingAndGlyphs">7_LAg10_2</text>
<text x="266.9" y="869.0" class="lb" font-size="23.7" textLength="136.5" lengthAdjust="spacingAndGlyphs">24_LAg10_2</text>
<text x="275.8" y="1220.0" class="lb" font-size="23.7" textLength="108.4" lengthAdjust="spacingAndGlyphs">24_Pos_3</text>
<text x="244.2" y="1580.9" class="lb" font-size="23.7" textLength="68.6" lengthAdjust="spacingAndGlyphs">24_EC</text>
<text x="313.3" y="1592.5" class="lb" font-size="16.6" textLength="17.8" lengthAdjust="spacingAndGlyphs">50</text>
<text x="332.2" y="1580.9" class="lb" font-size="23.7" textLength="82.7" lengthAdjust="spacingAndGlyphs">Ag10_3</text>
<text x="249.5" y="1941.2" class="lb" font-size="23.7" textLength="68.5" lengthAdjust="spacingAndGlyphs">24_EC</text>
<text x="318.5" y="1952.8" class="lb" font-size="16.6" textLength="17.7" lengthAdjust="spacingAndGlyphs">50</text>
<text x="337.3" y="1941.2" class="lb" font-size="23.7" textLength="81.5" lengthAdjust="spacingAndGlyphs">Ag30_3</text>
<text x="461.8" y="1936.3" class="lb" font-size="23.7" textLength="68.2" lengthAdjust="spacingAndGlyphs">24_EC</text>
<text x="530.5" y="1947.9" class="lb" font-size="16.6" textLength="17.2" lengthAdjust="spacingAndGlyphs">50</text>
<text x="548.8" y="1936.3" class="lb" font-size="23.7" textLength="120.7" lengthAdjust="spacingAndGlyphs">Ag30_2 G4</text>
<text x="701.5" y="1936.3" class="lb" font-size="23.7" textLength="44.0" lengthAdjust="spacingAndGlyphs">G11</text>
<text x="1020.1" y="1570.6" class="lb" font-size="23.7" textLength="54.4" lengthAdjust="spacingAndGlyphs">7_EC</text>
<text x="1075.0" y="1581.3" class="lb" font-size="16.6" textLength="17.7" lengthAdjust="spacingAndGlyphs">50</text>
<text x="1093.8" y="1570.6" class="lb" font-size="23.7" textLength="120.3" lengthAdjust="spacingAndGlyphs">Ag10_1 G3</text>
<text x="1031.2" y="1938.8" class="lb" font-size="23.7" textLength="53.8" lengthAdjust="spacingAndGlyphs">7_EC</text>
<text x="1085.5" y="1950.4" class="lb" font-size="16.6" textLength="17.7" lengthAdjust="spacingAndGlyphs">50</text>
<text x="1104.3" y="1938.8" class="lb" font-size="23.7" textLength="119.6" lengthAdjust="spacingAndGlyphs">Ag30_1 G3</text>
</g>
</svg></body></html>
